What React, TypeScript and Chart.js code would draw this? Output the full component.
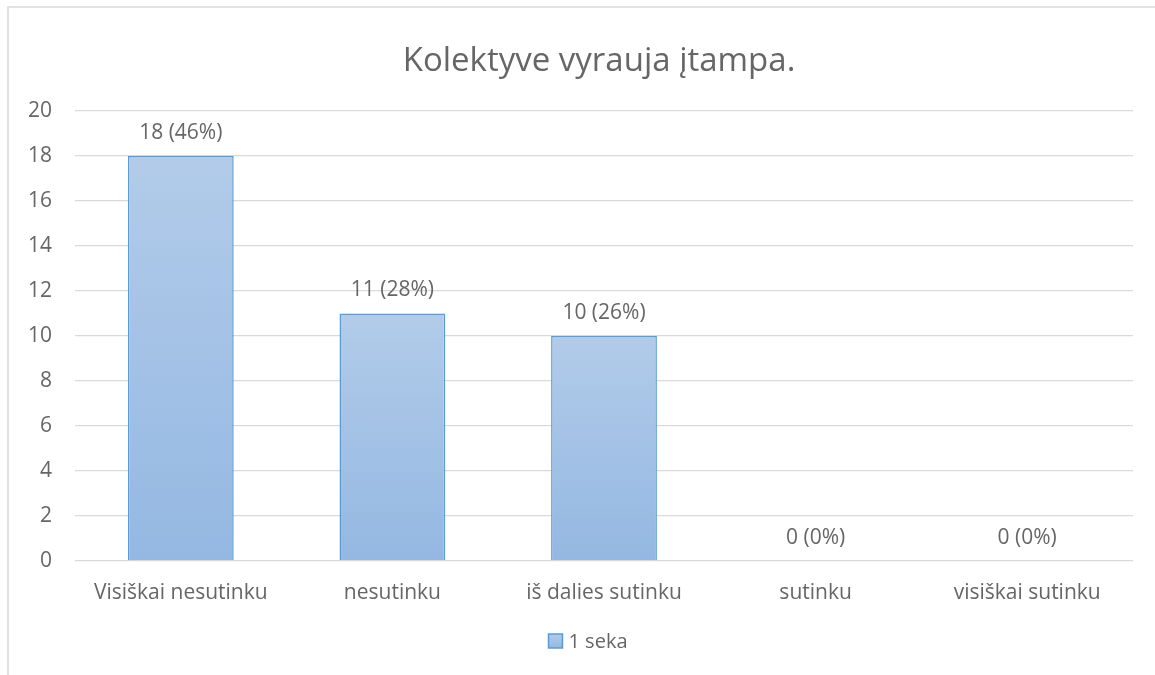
import React, { useEffect, useRef } from "react";
import { Chart, registerables } from "chart.js";

Chart.register(...registerables);

const categories = ["Visiškai nesutinku", "nesutinku", "iš dalies sutinku", "sutinku", "visiškai sutinku"];
const seriesLabel = "1 seka";
const values = [18, 11, 10, 0, 0];
const yTicks = [0, 2, 4, 6, 8, 10, 12, 14, 16, 18, 20];
const title = "Kolektyve vyrauja įtampa.";

const FONT = "'Open Sans', Lato, sans-serif";
const TEXT = "#666666";
const GRID = "#d9d9d9";
const BAR_TOP = "#b2cbe9";
const BAR_BOTTOM = "#94b8e2";
const BAR_BORDER = "#5b9bd5";

const decorPlugin = {
  id: "decor",
  beforeDraw(chart: any) {
    const ctx = chart.ctx;
    ctx.save();
    ctx.strokeStyle = GRID;
    ctx.lineWidth = 1.5;
    ctx.strokeRect(8, 7, 1300, 1000);
    // title
    ctx.font = `33px ${FONT}`;
    ctx.fillStyle = TEXT;
    ctx.textAlign = "center";
    ctx.textBaseline = "middle";
    ctx.fillText(title, 599, 62);
    ctx.restore();
  },
  afterDatasetsDraw(chart: any) {
    const ctx = chart.ctx;
    const meta = chart.getDatasetMeta(0);
    const data = chart.data.datasets[0].data as number[];
    const total = data.reduce((a, b) => a + b, 0);
    ctx.save();
    ctx.font = `21px ${FONT}`;
    ctx.fillStyle = TEXT;
    ctx.textAlign = "center";
    ctx.textBaseline = "middle";
    meta.data.forEach((el: any, i: number) => {
      const v = data[i];
      const pct = total ? Math.round((v / total) * 100) : 0;
      ctx.fillText(`${v} (${pct}%)`, el.x, el.y - 23);
    });
    // legend
    const label = chart.data.datasets[0].label;
    ctx.font = `20px ${FONT}`;
    const tw = ctx.measureText(label).width;
    const box = 14;
    const gap = 6;
    const totalW = box + gap + tw;
    const cx = (chart.chartArea.left + chart.chartArea.right) / 2 - 16;
    const x0 = cx - totalW / 2;
    const yc = 641;
    const g = ctx.createLinearGradient(0, yc - box / 2, 0, yc + box / 2);
    g.addColorStop(0, BAR_TOP);
    g.addColorStop(1, BAR_BOTTOM);
    ctx.fillStyle = g;
    ctx.fillRect(x0, yc - box / 2, box, box);
    ctx.strokeStyle = BAR_BORDER;
    ctx.lineWidth = 1.5;
    ctx.strokeRect(x0, yc - box / 2, box, box);
    ctx.fillStyle = TEXT;
    ctx.textAlign = "left";
    ctx.fillText(label, x0 + box + gap, yc + 1);
    ctx.restore();
  },
};

export default function App() {
  const ref = useRef<HTMLCanvasElement>(null);
  useEffect(() => {
    if (!ref.current) return;
    const chart = new Chart(ref.current, {
      type: "bar",
      data: {
        labels: categories,
        datasets: [
          {
            label: seriesLabel,
            data: values,
            backgroundColor: (c: any) => {
              const ch = c.chart;
              const y = ch.scales?.y;
              if (!ch.chartArea || !y || c.dataIndex === undefined) return BAR_BOTTOM;
              const v = values[c.dataIndex] ?? 0;
              const top = y.getPixelForValue(v);
              const base = y.getPixelForValue(0);
              if (!isFinite(top) || !isFinite(base) || top === base) return BAR_BOTTOM;
              const g = ch.ctx.createLinearGradient(0, top, 0, base);
              g.addColorStop(0, BAR_TOP);
              g.addColorStop(1, BAR_BOTTOM);
              return g;
            },
            borderColor: BAR_BORDER,
            borderWidth: 1.5,
            categoryPercentage: 1,
            barPercentage: 0.5,
          },
        ],
      },
      options: {
        responsive: false,
        animation: false,
        layout: { padding: { left: 8, right: 22, top: 111, bottom: 0 } },
        plugins: {
          legend: { display: false },
          tooltip: { enabled: false },
          title: { display: false },
        },
        scales: {
          x: {
            grid: { display: false, drawTicks: false },
            border: { display: false },
            ticks: { color: TEXT, font: { family: FONT, size: 21 }, padding: 19, maxRotation: 0 },
            afterFit: (s: any) => {
              s.height = 114;
            },
          },
          y: {
            min: 0,
            max: 20,
            grid: { color: GRID, lineWidth: 1.3, drawTicks: false },
            border: { display: false },
            afterBuildTicks: (s: any) => {
              s.ticks = yTicks.map((v) => ({ value: v }));
            },
            ticks: { color: TEXT, font: { family: FONT, size: 21 }, padding: 23 },
            afterFit: (s: any) => {
              s.width = 67;
            },
          },
        },
      },
      plugins: [decorPlugin],
    } as any);
    return () => chart.destroy();
  }, []);
  return (
    <div style={{ position: "fixed", left: 0, top: 0, width: 1155, height: 675, background: "#fff" }}>
      <canvas ref={ref} width={1155} height={675} style={{ width: 1155, height: 675 }} />
    </div>
  );
}
